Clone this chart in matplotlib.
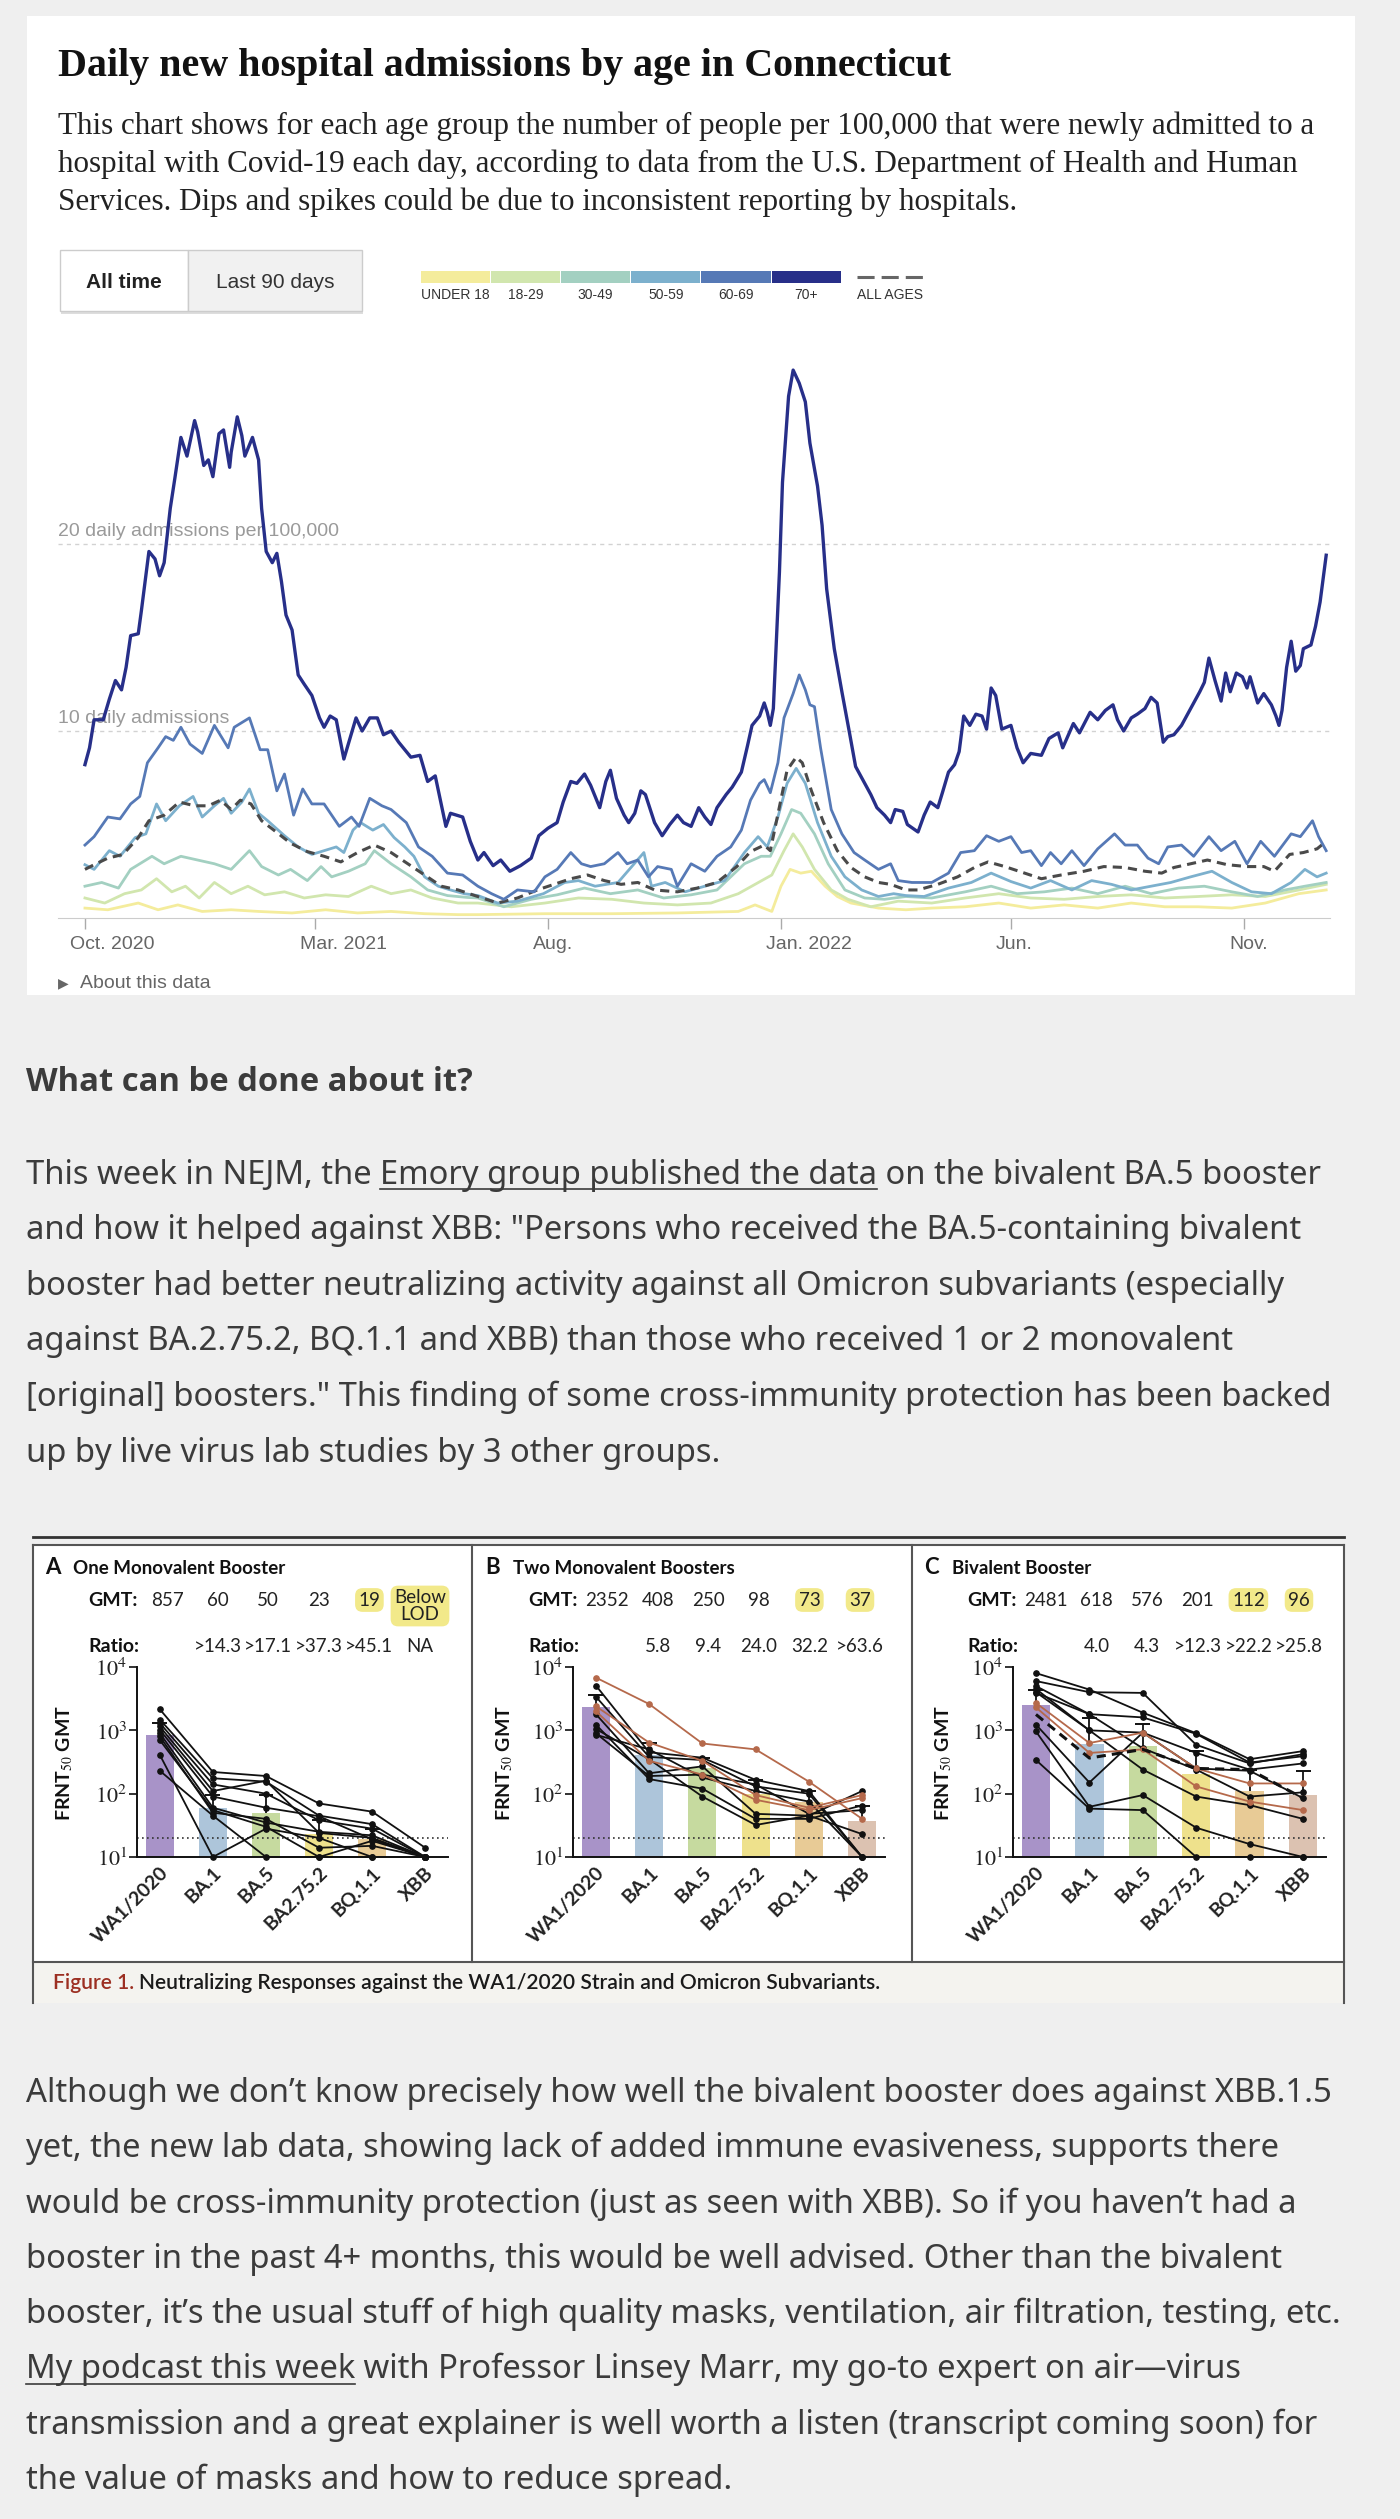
import numpy as np
import pandas as pd
import matplotlib
matplotlib.use("Agg")
import matplotlib.pyplot as plt
from matplotlib.patches import Rectangle
from matplotlib.lines import Line2D
from matplotlib.ticker import NullLocator
from matplotlib.transforms import ScaledTranslation

plt.rcParams['mathtext.fontset'] = 'stix'

# ---------------- NYT chart data: admissions per 100,000, days since 2020-10-01 ----------------
start = pd.Timestamp('2020-10-01')

age70_days = [0, 3, 6, 12, 16, 20, 24, 27, 30, 35, 37, 42, 46, 49, 52, 56, 59, 63, 67, 72, 74, 78, 81, 84, 88,
              91, 95, 96, 100, 103, 105, 110, 114, 116, 119, 123, 126, 129, 132, 136, 140, 144, 149, 154, 157,
              161, 165, 170, 174, 178, 182, 187, 192, 196, 201, 206, 210, 214, 220, 225, 230, 237, 240, 248, 253,
              258, 262, 268, 273, 279, 286, 293, 298, 304, 310, 314, 319, 323, 328, 332, 338, 342, 345, 349, 354,
              357, 361, 365, 368, 374, 379, 384, 389, 393, 398, 403, 407, 411, 415, 421, 425, 431, 435, 438, 443,
              446, 448, 450, 452, 456, 458, 462, 465, 469, 473, 476, 481, 484, 487, 492, 497, 502, 506, 510, 516,
              520, 525, 529, 532, 537, 540, 547, 551, 555, 560, 563, 567, 571, 574, 577, 581, 585, 589, 592, 595,
              598, 602, 608, 612, 616, 621, 628, 633, 639, 642, 649, 653, 660, 665, 670, 675, 678, 682, 687, 691,
              696, 700, 704, 708, 711, 715, 720, 724, 728, 732, 735, 738, 742, 746, 749, 752, 756, 760, 763, 765,
              770, 774, 779, 782, 784, 786, 789, 792, 795, 798, 800, 805, 808, 811, 815]
age70 = [8.2, 9.1, 10.6, 10.6, 11.7, 12.7, 12.2, 13.4, 15.1, 15.2, 16.4, 19.6, 19.2, 18.3, 19.0, 21.9, 23.5, 25.7,
         24.7, 26.6, 26.0, 24.2, 24.5, 23.6, 25.9, 26.1, 24.1, 24.9, 26.8, 25.8, 24.7, 25.7, 24.5, 21.9, 19.6, 19.0,
         19.5, 18.0, 16.2, 15.4, 13.0, 12.5, 11.9, 10.7, 10.2, 10.8, 10.6, 8.5, 9.6, 10.7, 10.0, 10.7, 10.7, 9.8,
         10.0, 9.4, 9.0, 8.6, 8.7, 7.3, 7.6, 4.9, 5.6, 5.4, 4.1, 3.1, 3.5, 2.8, 3.1, 2.5, 2.8, 3.2, 4.4, 4.8, 5.1,
         6.2, 7.3, 7.2, 7.7, 7.1, 5.9, 7.3, 7.9, 6.4, 5.5, 5.1, 5.6, 6.8, 6.6, 5.1, 4.4, 5.0, 5.5, 5.1, 4.9, 5.9,
         5.4, 5.0, 5.9, 6.6, 7.0, 7.8, 9.2, 10.3, 10.8, 11.5, 11.0, 10.3, 11.2, 18.5, 23.3, 27.9, 29.3, 28.6, 27.6,
         25.4, 23.1, 21.0, 17.6, 14.4, 12.1, 9.9, 8.1, 7.5, 6.6, 5.9, 5.5, 5.1, 5.8, 5.7, 5.0, 4.6, 5.5, 6.2, 5.9,
         6.7, 7.8, 8.2, 8.9, 10.8, 10.3, 10.9, 10.8, 10.1, 12.3, 11.9, 10.1, 10.3, 9.1, 8.3, 8.8, 8.7, 9.6, 9.9,
         9.1, 10.4, 9.9, 11.0, 10.6, 11.1, 11.4, 10.6, 10.0, 10.7, 10.9, 11.2, 11.8, 11.5, 9.4, 9.7, 9.8, 10.3,
         10.9, 11.5, 12.1, 12.6, 13.9, 12.7, 11.6, 13.1, 12.1, 13.1, 12.9, 12.3, 12.9, 11.5, 12.0, 11.4, 10.8,
         10.3, 11.1, 13.4, 14.8, 13.2, 13.5, 14.4, 14.6, 15.6, 16.9, 19.4]

age60_days = [0, 6, 15, 23, 30, 36, 41, 48, 53, 58, 63, 69, 77, 85, 94, 98, 108, 115, 120, 126, 131, 137, 143, 149,
              157, 167, 175, 180, 187, 195, 201, 211, 219, 228, 238, 248, 258, 267, 275, 284, 295, 302, 310, 319,
              326, 332, 341, 350, 356, 363, 370, 376, 385, 389, 398, 407, 415, 424, 431, 437, 443, 446, 450, 455,
              459, 465, 469, 473, 476, 479, 483, 490, 497, 505, 512, 521, 529, 534, 543, 556, 567, 575, 584, 592,
              600, 608, 615, 621, 628, 634, 641, 648, 656, 665, 676, 683, 691, 698, 705, 711, 720, 728, 738, 746,
              755, 763, 772, 781, 792, 798, 806, 810, 815]
age60 = [3.9, 4.35, 5.4, 5.3, 6.1, 6.5, 8.3, 9.1, 9.7, 9.5, 10.2, 9.3, 8.8, 10.3, 9.1, 10.2, 10.7, 9.0, 9.0, 6.8,
         7.7, 5.5, 6.9, 6.1, 6.1, 4.9, 5.4, 4.9, 6.4, 6.0, 5.8, 5.1, 3.8, 3.3, 2.4, 2.3, 1.7, 1.3, 1.0, 1.5, 1.4,
         2.2, 2.6, 3.5, 2.9, 2.75, 2.9, 3.5, 2.9, 3.1, 2.2, 2.75, 2.6, 1.7, 2.9, 2.5, 3.3, 3.8, 4.7, 6.3, 7.2,
         7.4, 6.7, 8.3, 10.7, 12.0, 13.0, 12.2, 11.4, 11.3, 9.1, 5.8, 4.5, 3.5, 3.1, 2.6, 2.9, 2.0, 1.9, 1.9, 2.4,
         3.5, 3.6, 4.4, 4.1, 4.35, 3.5, 3.6, 2.8, 3.5, 2.9, 3.6, 2.8, 3.7, 4.5, 3.9, 3.9, 3.2, 2.9, 3.8, 3.9,
         3.3, 4.35, 3.6, 4.1, 2.9, 4.1, 3.3, 4.5, 4.35, 5.2, 4.35, 3.6]

age50_days = [0, 6, 16, 23, 33, 40, 47, 53, 62, 71, 77, 85, 91, 96, 103, 108, 114, 120, 131, 140, 149, 157, 165,
              170, 176, 181, 189, 196, 203, 210, 216, 223, 232, 240, 249, 258, 271, 284, 301, 315, 324, 335, 350,
              367, 372, 381, 394, 407, 420, 433, 442, 448, 455, 461, 467, 473, 481, 490, 499, 510, 521, 531, 539,
              551, 567, 582, 595, 608, 621, 634, 648, 661, 674, 687, 700, 713, 726, 740, 753, 766, 779, 792, 801,
              809, 815]
age50 = [2.85, 2.6, 3.6, 3.3, 4.3, 4.5, 6.1, 5.2, 6.0, 6.5, 5.4, 6.0, 6.4, 5.6, 6.2, 6.9, 5.6, 5.2, 4.4, 3.8, 3.4,
         3.6, 3.8, 3.5, 4.7, 5.1, 4.7, 5.0, 4.3, 3.8, 3.3, 2.2, 1.7, 1.5, 1.3, 1.2, 0.8, 0.9, 1.3, 1.9, 2.0, 1.7,
         1.9, 3.5, 1.7, 1.9, 1.4, 1.7, 2.0, 3.5, 4.35, 3.8, 5.4, 7.2, 8.0, 7.2, 5.1, 3.3, 2.2, 1.5, 1.15, 1.3,
         1.2, 1.15, 1.6, 1.9, 2.4, 1.95, 1.6, 2.0, 1.5, 2.0, 1.8, 1.5, 1.7, 1.9, 2.2, 2.5, 1.9, 1.4, 1.3, 1.9,
         2.6, 2.2, 2.4]

age30_days = [0, 11, 22, 30, 44, 52, 63, 74, 85, 96, 108, 116, 127, 135, 146, 155, 162, 173, 184, 190, 201, 214,
              225, 238, 251, 258, 275, 293, 310, 328, 345, 363, 380, 398, 415, 433, 444, 450, 457, 464, 470, 479,
              488, 499, 512, 525, 539, 556, 578, 595, 612, 630, 648, 665, 683, 700, 718, 735, 753, 770, 788, 801,
              815]
age30 = [1.7, 1.9, 1.6, 2.6, 3.3, 2.9, 3.3, 3.1, 2.9, 2.6, 3.6, 2.75, 2.3, 2.6, 2.0, 2.75, 2.2, 2.5, 2.9, 3.6,
         2.9, 2.2, 1.5, 1.2, 1.1, 1.07, 0.6, 1.0, 1.24, 1.6, 1.3, 1.5, 1.07, 1.24, 1.5, 2.9, 3.3, 3.3, 4.5, 5.8,
         5.6, 4.5, 2.9, 1.5, 1.07, 1.0, 1.15, 1.07, 1.4, 1.7, 1.3, 1.4, 1.6, 1.3, 1.7, 1.3, 1.6, 1.7, 1.4, 1.15,
         1.5, 1.7, 1.9]

age18_days = [0, 13, 26, 37, 47, 57, 66, 75, 85, 96, 107, 118, 131, 144, 158, 173, 188, 201, 214, 228, 245, 258,
              280, 302, 324, 346, 367, 389, 411, 429, 440, 451, 459, 465, 471, 479, 490, 501, 516, 534, 556, 578,
              600, 621, 643, 665, 687, 709, 731, 753, 775, 797, 815]
age18 = [1.07, 0.8, 1.3, 1.5, 2.1, 1.4, 1.7, 1.07, 1.9, 1.3, 1.7, 1.24, 1.4, 1.07, 1.24, 1.15, 1.7, 1.3, 1.5,
         1.07, 0.8, 0.8, 0.6, 0.8, 1.07, 1.0, 0.8, 0.7, 0.8, 1.3, 1.8, 2.3, 3.6, 4.5, 3.8, 2.6, 1.5, 1.0, 0.6,
         0.9, 0.8, 1.07, 1.3, 1.07, 1.0, 1.15, 1.24, 1.07, 1.15, 1.24, 1.15, 1.5, 1.8]

under18_days = [0, 15, 35, 48, 61, 77, 96, 114, 136, 158, 179, 201, 223, 245, 258, 302, 346, 389, 429, 440, 451,
                457, 463, 470, 477, 486, 494, 503, 521, 539, 556, 578, 600, 621, 643, 665, 687, 709, 731, 753,
                775, 797, 815]
under18 = [0.53, 0.44, 0.8, 0.44, 0.7, 0.35, 0.44, 0.35, 0.27, 0.44, 0.27, 0.35, 0.23, 0.18, 0.18, 0.23, 0.23,
           0.27, 0.35, 0.7, 0.35, 1.7, 2.6, 2.4, 2.5, 1.7, 1.15, 0.8, 0.53, 0.44, 0.53, 0.6, 0.8, 0.53, 0.7,
           0.53, 0.8, 0.6, 0.6, 0.53, 0.8, 1.3, 1.5]

all_days = [0, 6, 15, 25, 35, 42, 52, 62, 72, 81, 89, 96, 102, 109, 116, 124, 135, 146, 157, 168, 179, 190, 201,
            212, 223, 234, 245, 256, 271, 284, 297, 308, 319, 330, 341, 352, 363, 374, 389, 402, 415, 428, 437,
            446, 450, 456, 461, 467, 471, 477, 485, 494, 503, 512, 521, 529, 539, 547, 560, 573, 584, 593, 604,
            617, 628, 641, 656, 669, 683, 696, 707, 715, 726, 737, 750, 763, 774, 781, 791, 800, 809, 815]
all_ages = [2.6, 2.85, 3.2, 3.4, 4.3, 5.2, 5.5, 6.2, 6.0, 6.0, 6.3, 5.8, 6.3, 6.1, 5.2, 4.7, 4.0, 3.55, 3.3, 3.0,
            3.5, 3.9, 3.5, 2.9, 2.3, 1.7, 1.5, 1.2, 0.8, 1.07, 1.5, 1.8, 2.1, 2.3, 2.0, 1.8, 1.9, 1.5, 1.4, 1.6,
            1.9, 2.75, 3.55, 3.9, 3.6, 5.95, 7.9, 8.6, 8.3, 6.8, 5.1, 3.6, 2.7, 2.2, 1.9, 1.8, 1.5, 1.5, 1.8, 2.2,
            2.7, 3.0, 2.75, 2.4, 2.1, 2.3, 2.5, 2.75, 2.7, 2.5, 2.4, 2.7, 2.9, 3.1, 2.85, 2.75, 2.75, 2.5, 3.4,
            3.5, 3.7, 4.1]

age_labels = ['UNDER 18', '18-29', '30-49', '50-59', '60-69', '70+']
age_colors = ['#f4ec9c', '#d1e6ae', '#a3d0c1', '#7cb0cd', '#5679b6', '#272f89']
tick_dates = ['2020-10-01', '2021-03-01', '2021-08-01', '2022-01-01', '2022-06-01', '2022-11-01']
tick_labels = ['Oct. 2020', 'Mar. 2021', 'Aug.', 'Jan. 2022', 'Jun.', 'Nov.']

# ---------------- NEJM figure data ----------------
variants = ['WA1/2020', 'BA.1', 'BA.5', 'BA2.75.2', 'BQ.1.1', 'XBB']
bar_colors = ['#a893c8', '#adc5da', '#c6da9f', '#eee18c', '#e8cb96', '#dcc2b1']

gmt_a = [857, 60, 50, 23, 19, 10]
cap_a = [1300, 95, 95, 38, 28, None]
lines_a = [[2150, 220, 190, 70, 52, 14], [1480, 175, 155, 45, 33, 10], [1300, 140, 100, 38, 28, 10],
           [1150, 110, 160, 24, 20, 10], [1020, 90, 60, 44, 19, 10], [900, 60, 35, 25, 22, 10],
           [800, 50, 40, 14, 15, 10], [700, 55, 30, 10, 18, 10], [410, 10, 28, 20, 10, 10],
           [230, 45, 10, 10, 10, 10]]

gmt_b = [2352, 408, 250, 98, 73, 37]
cap_b = [3600, 640, 370, 165, 110, 65]
lines_b = [[5100, 450, 370, 165, 110, 10], [3400, 380, 340, 130, 100, 10], [1800, 210, 270, 48, 45, 110],
           [1230, 170, 120, 40, 40, 65], [1050, 350, 90, 32, 45, 23], [900, 190, 200, 140, 48, 55],
           [850, 500, 180, 110, 75, 10]]
brown_b = [[6800, 2600, 620, 500, 155, 40], [2400, 640, 330, 95, 60, 95], [2000, 330, 200, 80, 55, 85]]

gmt_c = [2481, 618, 576, 201, 112, 96]
cap_c = [4400, 1550, 1250, 480, 240, 230]
lines_c = [[8000, 4400, 1900, 900, 350, 470], [6000, 4000, 3900, 590, 300, 420], [5000, 1800, 1600, 880, 310, 390],
           [4500, 1000, 920, 440, 240, 300], [3900, 1800, 520, 240, 90, 105], [1230, 150, 920, 250, 230, 85],
           [960, 62, 95, 29, 16, 10], [340, 58, 55, 10, 10, 10], [4000, 1000, 240, 90, 66, 40]]
brown_c = [[2700, 630, 920, 250, 145, 145], [2300, 440, 500, 130, 75, 55]]
dashed_c = [1780, 365, 500, 250, 240, 85]

ratio_a = ['', '>14.3', '>17.1', '>37.3', '>45.1', 'NA']
ratio_b = ['', '5.8', '9.4', '24.0', '32.2', '>63.6']
ratio_c = ['', '4.0', '4.3', '>12.3', '>22.2', '>25.8']
gmt_text_a = ['857', '60', '50', '23', '19', 'Below\nLOD']
gmt_text_b = ['2352', '408', '250', '98', '73', '37']
gmt_text_c = ['2481', '618', '576', '201', '112', '96']
hilite = [False, False, False, False, True, True]

# ---------------- figure / helpers ----------------
W, H = 1400, 2519
fig = plt.figure(figsize=(W / 100, H / 100), dpi=100)
fig.patch.set_facecolor('#efefef')
R = fig.canvas.get_renderer()


def fx(x):
    return x / W


def fy(y):
    return 1 - y / H


def rect(x0, y0, x1, y1, z=-3, **kw):
    fig.add_artist(Rectangle((fx(x0), fy(y1)), (x1 - x0) / W, (y1 - y0) / H,
                             transform=fig.transFigure, zorder=z, **kw))


def seg(x0, y0, x1, y1, z=-1, **kw):
    fig.add_artist(Line2D([fx(x0), fx(x1)], [fy(y0), fy(y1)], transform=fig.transFigure, zorder=z, **kw))


def txt(x, y, s, **kw):
    return fig.text(fx(x), fy(y), s, **kw)


def text_w(s, **kw):
    t = fig.text(0, 0, s + '|', **kw)
    w1 = t.get_window_extent(R).width
    t.remove()
    t = fig.text(0, 0, '|', **kw)
    w2 = t.get_window_extent(R).width
    t.remove()
    return w1 - w2


def fit(s, width, **kw):
    return 20 * width / text_w(s, fontsize=20, **kw)


# ---------------- NYT card ----------------
rect(27, 16, 1355, 995, fc='white', ec='none')

title = 'Daily new hospital admissions by age in Connecticut'
tkw = dict(family='Liberation Serif', fontweight='bold')
txt(58, 76, title, fontsize=fit(title, 893, **tkw), color='#121212', va='baseline', **tkw)

desc = ['This chart shows for each age group the number of people per 100,000 that were newly admitted to a',
        'hospital with Covid-19 each day, according to data from the U.S. Department of Health and Human',
        'Services. Dips and spikes could be due to inconsistent reporting by hospitals.']
dkw = dict(family='Liberation Serif')
dsize = fit(desc[0], 1259, **dkw)
for i, line in enumerate(desc):
    txt(58, 134 + 38 * i, line, fontsize=dsize, color='#222222', va='baseline', **dkw)

# buttons
rect(61, 252, 363, 314, fc='#dddddd', ec='none')
rect(60, 250, 188, 311, fc='white', ec='#cccccc', lw=1)
rect(188, 250, 362, 311, fc='#f1f1f1', ec='#cccccc', lw=1)
txt(124, 282, 'All time', family='Liberation Sans', fontweight='bold', fontsize=15,
    ha='center', va='center', color='#222')
txt(275, 282, 'Last 90 days', family='Liberation Sans', fontsize=15, ha='center', va='center', color='#333')

# legend
x0, sw = 420, 70.2
for i, (lab, c) in enumerate(zip(age_labels, age_colors)):
    rect(x0 + i * sw + 0.5, 271, x0 + (i + 1) * sw - 0.5, 283, fc=c, ec='none', z=-1)
    txt(x0 + (i + 0.5) * sw, 295, lab, family='Liberation Sans', fontsize=10, ha='center', va='center',
        color='#333')
seg(857, 277, 924, 277, color='#666', lw=2.2, ls=(0, (5.6, 2.3)))
txt(890, 295, 'ALL AGES', family='Liberation Sans', fontsize=10, ha='center', va='center', color='#333')

# line chart
ax = fig.add_axes([fx(58), fy(918), (1330 - 58) / W, (918 - 355) / H])
ax.set_facecolor('none')
ax.set_xlim(start - pd.Timedelta(days=17.7), start + pd.Timedelta(days=817.5))
ax.set_ylim(0, (918 - 355) / 18.7)
for v, lab in [(10, '10 daily admissions'), (20, '20 daily admissions per 100,000')]:
    ax.axhline(v, color='#d2d2d2', lw=1, ls=(0, (3, 3)), zorder=0)
    ax.annotate(lab, xy=(0, v), xycoords=('axes fraction', 'data'), xytext=(0, 8), textcoords='offset pixels',
                va='baseline', ha='left', fontsize=14, color='#9a9a9a', family='Liberation Sans', zorder=0.5)


def dates(d):
    return start + pd.to_timedelta(d, unit='D')


series = [(under18_days, under18, age_colors[0], 2.0, '-'),
          (age18_days, age18, age_colors[1], 2.0, '-'),
          (age30_days, age30, age_colors[2], 2.0, '-'),
          (age50_days, age50, age_colors[3], 2.0, '-'),
          (all_days, all_ages, '#4a4a4a', 2.2, '--'),
          (age60_days, age60, age_colors[4], 2.0, '-'),
          (age70_days, age70, age_colors[5], 2.4, '-')]
for i, (d, v, c, lw, ls) in enumerate(series):
    kw = dict(dashes=(3, 2)) if ls == '--' else {}
    ax.plot(dates(d), v, color=c, lw=lw, ls=ls, zorder=2 + i, solid_joinstyle='round', **kw)

for s in ['left', 'right', 'top']:
    ax.spines[s].set_visible(False)
ax.spines['bottom'].set_color('#cccccc')
ax.set_yticks([])
ax.set_xticks(pd.to_datetime(tick_dates))
ax.set_xticklabels(tick_labels, ha='left')
ax.tick_params(axis='x', length=8, color='#aaaaaa', width=1, pad=5, labelsize=14, labelcolor='#666666')
for lab in ax.get_xticklabels():
    lab.set_family('Liberation Sans')
    lab.set_transform(lab.get_transform() + ScaledTranslation(-15 / 100, 0, fig.dpi_scale_trans))

txt(58, 983, '\u25B6', family='DejaVu Sans', fontsize=10, color='#666', va='center')
txt(80, 983, 'About this data', family='Liberation Sans', fontsize=14, color='#666', va='center')

# ---------------- blog text ----------------
TXT = '#3b3b3b'
bkw = dict(family='Noto Sans')
head = 'What can be done about it?'
hkw = dict(family='Open Sans', fontweight='bold')
txt(26, 1091, head, fontsize=fit(head, 446, **hkw), color=TXT, va='baseline', **hkw)

p1 = [[('This week in NEJM, the ', False), ('Emory group published the data', True),
       (' on the bivalent BA.5 booster', False)],
      [('and how it helped against XBB: "Persons who received the BA.5-containing bivalent', False)],
      [('booster had better neutralizing activity against all Omicron subvariants (especially', False)],
      [('against BA.2.75.2, BQ.1.1 and XBB) than those who received 1 or 2 monovalent', False)],
      [('[original] boosters." This finding of some cross-immunity protection has been backed', False)],
      [('up by live virus lab studies by 3 other groups.', False)]]
p2 = [[('Although we don\u2019t know precisely how well the bivalent booster does against XBB.1.5', False)],
      [('yet, the new lab data, showing lack of added immune evasiveness, supports there', False)],
      [('would be cross-immunity protection (just as seen with XBB). So if you haven\u2019t had a', False)],
      [('booster in the past 4+ months, this would be well advised. Other than the bivalent', False)],
      [('booster, it\u2019s the usual stuff of high quality masks, ventilation, air filtration, testing, etc.', False)],
      [('My podcast this week', True),
       (' with Professor Linsey Marr, my go-to expert on air\u2014virus', False)],
      [('transmission and a great explainer is well worth a listen (transcript coming soon) for', False)],
      [('the value of masks and how to reduce spread.', False)]]

psize = fit(''.join(s for s, _ in p1[0]), 1300, **bkw)


def paragraph(lines, y0, step):
    for i, line in enumerate(lines):
        x, y = 26, y0 + step * i
        for s, ul in line:
            txt(x, y, s, fontsize=psize, color=TXT, va='baseline', **bkw)
            w = text_w(s, fontsize=psize, **bkw)
            if ul:
                seg(x, y + 5, x + w, y + 5, color=TXT, lw=1.2, z=2)
            x += w


paragraph(p1, 1184, 55.5)
paragraph(p2, 2102, 55.3)

# ---------------- NEJM figure ----------------
rect(33, 1545, 1344, 1962, fc='white', ec='none')
rect(33, 1962, 1344, 2003, fc='#f4f3ef', ec='none')
seg(33, 1537, 1344, 1537, color='#333', lw=2)
for xv in [33, 1344]:
    seg(xv, 1545, xv, 2003, color='#555', lw=1.5)
for xv in [472, 912]:
    seg(xv, 1545, xv, 1962, color='#555', lw=1.5)
seg(33, 1545, 1344, 1545, color='#555', lw=1.5)
seg(33, 1962, 1344, 1962, color='#555', lw=1.5)

fk = dict(family='Lato')


def panel(px0, axl, axr, letter, title, gmt, gmt_text, caps, ratio, black, brown=(), dashed=None):
    a = fig.add_axes([fx(axl), fy(1857), (axr - axl) / W, (1857 - 1667) / H])
    a.set_facecolor('none')
    x = np.arange(len(variants))
    a.bar(x, np.array(gmt, float) - 10, bottom=10, width=0.53, color=bar_colors, zorder=1)
    for xi, c, g in zip(x, caps, gmt):
        if c:
            a.vlines(xi, g, c, color='#111', lw=1.3, zorder=3)
            a.hlines(c, xi - 0.14, xi + 0.14, color='#111', lw=1.4, zorder=3)
    a.axhline(20, color='#333', lw=1.2, ls=(0, (1, 2)), zorder=2)
    for v in black:
        a.plot(x, v, '-o', color='#111', lw=1.3, ms=3.8, zorder=4, clip_on=False)
    for v in brown:
        a.plot(x, v, '-o', color='#b5694b', lw=1.3, ms=3.8, zorder=5, clip_on=False)
    if dashed is not None:
        a.plot(x, dashed, color='#111', lw=2.2, ls='--', dashes=(3, 2), zorder=5)
    a.set_yscale('log')
    a.set_ylim(10, 1e4)
    a.set_xlim(-0.43, 5.43)
    for s in ['right', 'top']:
        a.spines[s].set_visible(False)
    for s in ['left', 'bottom']:
        a.spines[s].set_linewidth(1.4)
        a.spines[s].set_color('#111')
    a.set_yticks([10, 100, 1000, 10000])
    a.set_yticklabels(['$10^1$', '$10^2$', '$10^3$', '$10^4$'])
    a.yaxis.set_minor_locator(NullLocator())
    a.tick_params(axis='y', length=6, width=1.3, pad=1, labelsize=16, colors='#222')
    a.set_xticks(x)
    a.set_xticklabels(variants, rotation=45, ha='right', rotation_mode='anchor', fontweight='bold',
                      fontsize=14, color='#222', **fk)
    a.tick_params(axis='x', length=0, pad=5)

    txt(px0 + 12, 1568, letter, fontsize=16, fontweight='bold', va='center', color='#111', **fk)
    txt(px0 + 40, 1568, title, fontsize=13.5, fontweight='bold', va='center', color='#111', **fk)
    txt(px0 + 55, 1600, 'GMT:', fontsize=14, fontweight='bold', va='center', color='#111', **fk)
    txt(px0 + 55, 1647, 'Ratio:', fontsize=14, fontweight='bold', va='center', color='#111', **fk)
    for i, (g, r, hi) in enumerate(zip(gmt_text, ratio, hilite)):
        xc = px0 + 134 + i * 50.6
        box = dict(boxstyle='round,pad=0.18,rounding_size=0.4', fc='#f2e98a', ec='none') if hi else None
        if '\n' in g:
            txt(xc, 1589, g, fontsize=13.5, ha='center', va='top', linespacing=1.0, color='#222', bbox=box, **fk)
        else:
            txt(xc, 1600, g, fontsize=13.5, ha='center', va='center', color='#222', bbox=box, **fk)
        if r:
            txt(xc, 1647, r, fontsize=13.5, ha='center', va='center', color='#222', **fk)
    txt(px0 + 32, 1763, 'FRNT$_{50}$ GMT', fontsize=14, fontweight='bold', rotation=90, ha='center',
        va='center', color='#111', **fk)


panel(33, 137, 448, 'A', 'One Monovalent Booster', gmt_a, gmt_text_a, cap_a, ratio_a, lines_a)
panel(473, 573, 885, 'B', 'Two Monovalent Boosters', gmt_b, gmt_text_b, cap_b, ratio_b, lines_b, brown_b)
panel(912, 1013, 1326, 'C', 'Bivalent Booster', gmt_c, gmt_text_c, cap_c, ratio_c, lines_c, brown_c, dashed_c)

cap_red = 'Figure 1. '
cap_rest = 'Neutralizing Responses against the WA1/2020 Strain and Omicron Subvariants.'
ck = dict(family='Lato', fontweight='semibold')
csize = fit(cap_red + cap_rest, 829, **ck)
txt(53, 1983, cap_red, fontsize=csize, color='#9c2f22', va='center', **ck)
txt(53 + text_w(cap_red, fontsize=csize, **ck), 1983, cap_rest, fontsize=csize, color='#1a1a1a', va='center', **ck)

fig.savefig('out.png', dpi=100, facecolor=fig.get_facecolor())
